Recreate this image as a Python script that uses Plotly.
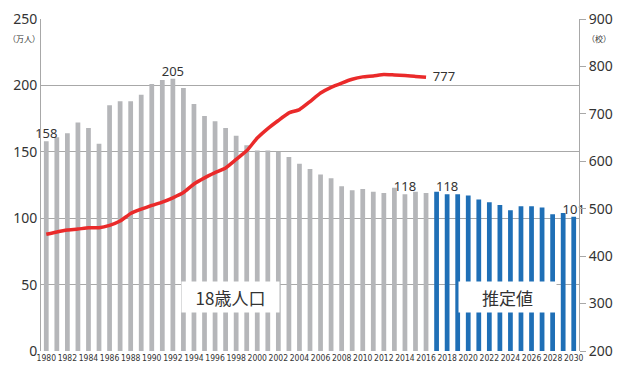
import plotly.graph_objects as go

years = list(range(1980, 2031))
population = [158, 161, 164, 172, 168, 156, 185, 188, 188, 193,
              201, 204, 205, 198, 186, 177, 173, 168, 162, 155,
              151, 151, 150, 146, 141, 137, 133, 130, 124, 121,
              122, 120, 119, 123, 118, 120, 119,
              120, 118, 118, 117, 114, 112, 110, 106, 109, 109, 108, 103, 104, 101]
first_estimate_year = 2017

univ_years = list(range(1980, 2017))
universities = [446, 451, 455, 457, 460, 460, 465, 474, 490, 499,
                507, 514, 523, 534, 552, 565, 576, 586, 604, 622,
                649, 669, 686, 702, 709, 726, 744, 756, 765, 773,
                778, 780, 783, 782, 781, 779, 777]

label_years = [1980, 1992, 2014, 2018, 2030]
tick_years = list(range(1980, 2031, 2))

GREY = "#b5b6b9"
BLUE = "#1f6fb6"
RED = "#ea2a2a"
TXT = "#333333"
GRID = "#a8a8a8"

colors = [BLUE if y >= first_estimate_year else GREY for y in years]

fig = go.Figure()
fig.add_trace(go.Bar(x=years, y=population, marker=dict(color=colors, line=dict(width=0)),
                     yaxis="y", showlegend=False, hoverinfo="x+y"))

lab_vals = [population[years.index(y)] for y in label_years]
fig.add_trace(go.Scatter(x=label_years, y=lab_vals, mode="text",
                         text=[str(v) for v in lab_vals], textposition="top center",
                         textfont=dict(family="Noto Sans", size=13, color=TXT),
                         yaxis="y", showlegend=False, cliponaxis=False))

fig.add_trace(go.Scatter(x=univ_years, y=universities, mode="lines",
                         line=dict(color=RED, width=3.5, shape="spline", smoothing=0.4),
                         yaxis="y2", showlegend=False))
fig.add_trace(go.Scatter(x=[univ_years[-1]], y=[universities[-1]], mode="text",
                         text=["  " + str(universities[-1])], textposition="middle right",
                         textfont=dict(family="Noto Sans", size=13, color=TXT),
                         yaxis="y2", showlegend=False, cliponaxis=False))

fig.update_layout(
    width=617, height=365,
    margin=dict(l=41, r=38, t=19, b=14, autoexpand=False),
    paper_bgcolor="white", plot_bgcolor="white",
    bargap=0.55,
    xaxis=dict(range=[1979.5, 2030.5], tickmode="array", tickvals=tick_years,
               ticktext=[str(y) for y in tick_years], tickangle=0, automargin=False,
               tickfont=dict(family="DejaVu Sans Condensed", size=8.5, color=TXT),
               showgrid=False, zeroline=False, showline=False, ticks="", ticklen=0),
    yaxis=dict(range=[0, 250], tickvals=[0, 50, 100, 150, 200, 250], automargin=False,
               showgrid=True, gridcolor=GRID, gridwidth=1,
               showline=True, linecolor=GRID, linewidth=1,
               zeroline=False, ticks="",
               tickfont=dict(family="Noto Sans", size=14, color=TXT)),
    yaxis2=dict(range=[200, 900], tickvals=[200, 300, 400, 500, 600, 700, 800, 900],
                overlaying="y", side="right", showgrid=False, zeroline=False, automargin=False,
                showline=True, linecolor=GRID, linewidth=1,
                ticks="outside", ticklen=6, tickcolor=GRID,
                tickfont=dict(family="Noto Sans", size=14, color=TXT)),
    font=dict(family="Noto Sans CJK JP", color=TXT),
)

fig.add_annotation(x=-0.0307, xanchor="center", y=(365 - 38 - 14) / 332, yanchor="middle",
                   xref="paper", yref="paper", text="（万人）", showarrow=False,
                   font=dict(family="Noto Sans CJK JP", size=8, color=TXT))
fig.add_annotation(x=1.037, xanchor="center", y=(365 - 38 - 14) / 332, yanchor="middle",
                   xref="paper", yref="paper", text="（校）", showarrow=False,
                   font=dict(family="Noto Sans CJK JP", size=8, color=TXT))
fig.add_annotation(x=1997.5, y=40.7, xref="x", yref="y", text="18歳人口", showarrow=False,
                   bgcolor="white", width=95, height=28,
                   font=dict(family="Noto Sans CJK JP", size=17, color=TXT))
fig.add_annotation(x=2023.75, y=40.7, xref="x", yref="y", text="推定値", showarrow=False,
                   bgcolor="white", width=95, height=28,
                   font=dict(family="Noto Sans CJK JP", size=17, color=TXT))

fig.write_html("out.html")
